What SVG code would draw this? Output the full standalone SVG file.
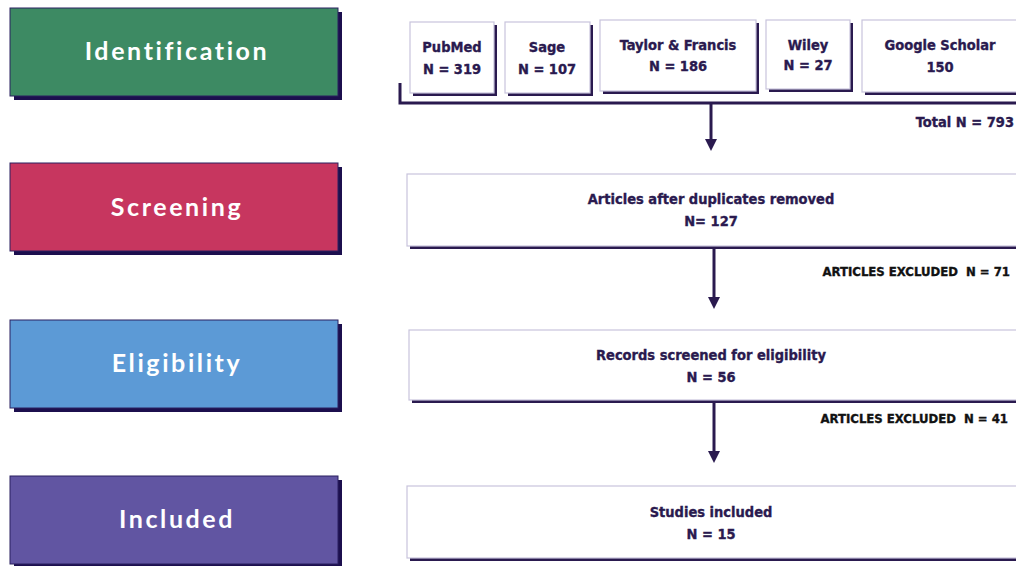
<svg xmlns="http://www.w3.org/2000/svg" width="1016" height="566" viewBox="0 0 1016 566">
<style>
.stage{stroke:#2b2160;stroke-width:1}
.shadow{fill:#1c0f4e}
.stxt{font-family:"Lato","Open Sans",sans-serif;font-weight:bold;font-size:25px;fill:#ffffff;letter-spacing:2.6px;text-anchor:middle}
.box{fill:#ffffff;stroke:#c8c4dc;stroke-width:1.2}
.bsh{fill:#2a1a4f}
.t{font-family:"DejaVu Sans Condensed","DejaVu Sans",sans-serif;font-stretch:condensed;font-weight:bold;font-size:14.5px;fill:#2a1a4f;stroke:#2a1a4f;stroke-width:0.35;text-anchor:middle}
.ex{font-family:"DejaVu Sans Condensed","DejaVu Sans",sans-serif;font-stretch:condensed;font-weight:bold;font-size:13px;fill:#111111;stroke:#111111;stroke-width:0.35;text-anchor:end;white-space:pre}
.line{stroke:#2a1a4f;stroke-width:3;fill:none}
</style>
<defs>
<marker id="ah" markerWidth="4" markerHeight="4" refX="2" refY="2" orient="auto" markerUnits="strokeWidth">
<path d="M0,0 L4,2 L0,4 Z" fill="#2a1a4f"/>
</marker>
</defs>
<rect width="1016" height="566" fill="#ffffff"/>

<g id="stage-identification">
<rect class="shadow" x="14" y="12" width="328" height="88"/>
<rect class="stage" x="10" y="8" width="328" height="88" fill="#3d8a63"/>
<text class="stxt" x="177" y="60">Identification</text>
</g>
<g id="stage-screening">
<rect class="shadow" x="14" y="167" width="328" height="88"/>
<rect class="stage" x="10" y="163" width="328" height="88" fill="#c7365f"/>
<text class="stxt" x="177" y="216">Screening</text>
</g>
<g id="stage-eligibility">
<rect class="shadow" x="14" y="324" width="328" height="88"/>
<rect class="stage" x="10" y="320" width="328" height="88" fill="#5c9ad6"/>
<text class="stxt" x="177" y="372">Eligibility</text>
</g>
<g id="stage-included">
<rect class="shadow" x="14" y="480" width="328" height="88"/>
<rect class="stage" x="10" y="476" width="328" height="88" fill="#6155a2"/>
<text class="stxt" x="177" y="528">Included</text>
</g>

<g id="src-pubmed">
<rect class="bsh" x="413" y="25" width="84" height="71"/>
<rect class="box" x="410" y="22" width="84" height="71"/>
<text class="t" x="452" y="52">PubMed</text>
<text class="t" x="452" y="74">N = 319</text>
</g>
<g id="src-sage">
<rect class="bsh" x="508" y="25" width="85" height="71"/>
<rect class="box" x="505" y="22" width="85" height="71"/>
<text class="t" x="547" y="52">Sage</text>
<text class="t" x="547" y="74">N = 107</text>
</g>
<g id="src-tf">
<rect class="bsh" x="603" y="23" width="156" height="71"/>
<rect class="box" x="600" y="20" width="156" height="71"/>
<text class="t" x="678" y="50">Taylor &amp; Francis</text>
<text class="t" x="678" y="71">N = 186</text>
</g>
<g id="src-wiley">
<rect class="bsh" x="769" y="23" width="84" height="69"/>
<rect class="box" x="766" y="20" width="84" height="69"/>
<text class="t" x="808" y="50">Wiley</text>
<text class="t" x="808" y="70">N = 27</text>
</g>
<g id="src-google">
<rect class="bsh" x="865" y="23" width="160" height="72"/>
<rect class="box" x="862" y="20" width="160" height="72"/>
<text class="t" x="940" y="50">Google Scholar</text>
<text class="t" x="940" y="72">150</text>
</g>

<g id="connectors">
<path class="line" d="M400,83 L400,103 L1016,103"/>
<line class="line" x1="711" y1="103" x2="711" y2="145" marker-end="url(#ah)"/>
<line class="line" x1="714" y1="248" x2="714" y2="303" marker-end="url(#ah)"/>
<line class="line" x1="714" y1="402" x2="714" y2="457" marker-end="url(#ah)"/>
</g>

<g id="total">
<text class="t" x="1014" y="127" style="text-anchor:end">Total N = 793</text>
</g>

<g id="box-duplicates">
<rect class="bsh" x="410" y="177" width="612" height="72"/>
<rect class="box" x="407" y="174" width="612" height="72"/>
<text class="t" x="711" y="204">Articles after duplicates removed</text>
<text class="t" x="711" y="226">N= 127</text>
</g>
<g id="excl-1">
<text class="ex" x="1010" y="276">ARTICLES EXCLUDED  N = 71</text>
</g>
<g id="box-eligibility">
<rect class="bsh" x="412" y="333" width="610" height="70"/>
<rect class="box" x="409" y="330" width="610" height="70"/>
<text class="t" x="711" y="360">Records screened for eligibility</text>
<text class="t" x="711" y="382">N = 56</text>
</g>
<g id="excl-2">
<text class="ex" x="1008" y="423">ARTICLES EXCLUDED  N = 41</text>
</g>
<g id="box-included">
<rect class="bsh" x="410" y="489" width="612" height="72"/>
<rect class="box" x="407" y="486" width="612" height="72"/>
<text class="t" x="711" y="517">Studies included</text>
<text class="t" x="711" y="539">N = 15</text>
</g>
</svg>
